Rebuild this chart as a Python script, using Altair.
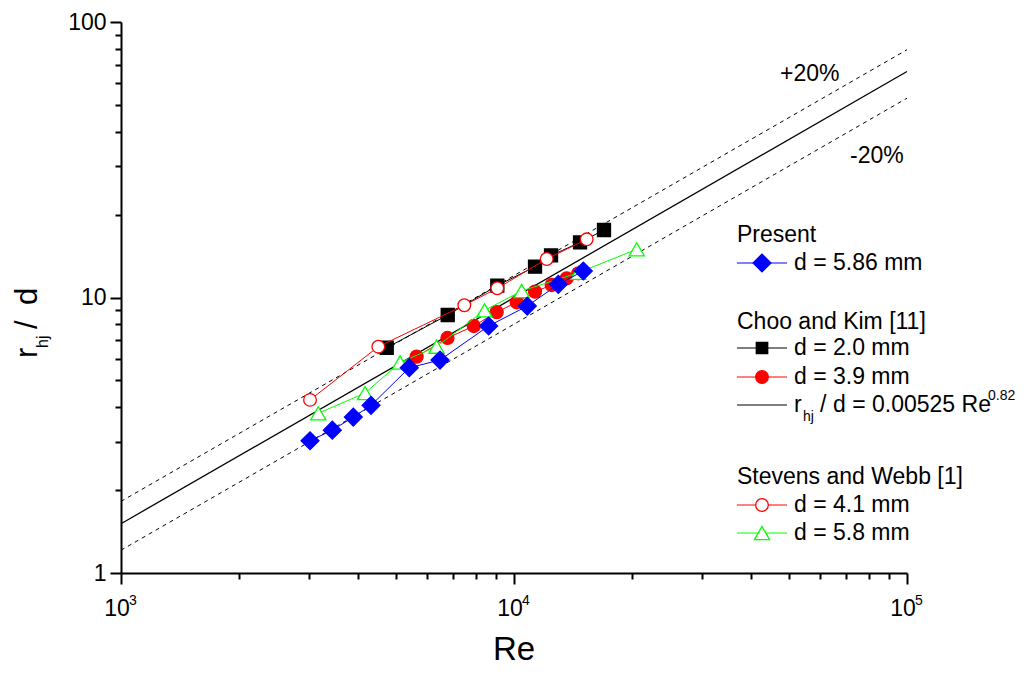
import altair as alt
import pandas as pd

FONT = "Liberation Sans"

# ---- data ----
present_re = [3027, 3449, 3900, 4327, 5415, 6482, 8620, 10810, 12964, 15010]
present_r = [3.02, 3.30, 3.68, 4.06, 5.56, 5.93, 7.88, 9.31, 11.16, 12.48]

ck20_re = [4744, 6782, 9069, 11310, 12423, 14724, 16943]
ck20_r = [6.57, 8.64, 11.05, 12.94, 14.21, 15.84, 17.58]

ck39_re = [5653, 6772, 7903, 9036, 10160, 11310, 12470, 13620, 14580]
ck39_r = [6.10, 7.13, 7.88, 8.85, 9.61, 10.50, 11.10, 11.74, 12.24]

sw41_re = [3027, 4516, 7474, 9069, 12114, 15310]
sw41_r = [4.25, 6.63, 9.37, 10.80, 13.80, 16.26]

sw58_re = [3177, 4178, 5129, 6352, 8414, 10461, 14580, 20520]
sw58_r = [3.80, 4.50, 5.81, 6.63, 8.98, 10.56, 12.30, 14.96]

fit_re = [1000, 100000]
fit_r = [1.51, 66.1]
fit_hi = [1.82, 79.3]
fit_lo = [1.21, 52.9]

x_ticks = [1000, 2000, 3000, 4000, 5000, 6000, 7000, 8000, 9000,
           10000, 20000, 30000, 40000, 50000, 60000, 70000, 80000, 90000, 100000]
y_ticks = [1, 2, 3, 4, 5, 6, 7, 8, 9, 10, 20, 30, 40, 50, 60, 70, 80, 90, 100]
x_decades = [1000, 10000, 100000]
x_decade_base = ["10", "10", "10"]
x_decade_exp = ["3", "4", "5"]

# ---- scales / axes ----
x_scale = alt.Scale(type="log", domain=[1000, 100000], nice=False)
y_scale = alt.Scale(type="log", domain=[1, 100], nice=False)

x_axis = alt.Axis(
    values=x_ticks, labels=False,
    tickSize={"condition": {"test": "datum.value == 1000 || datum.value == 10000 || datum.value == 100000", "value": 11}, "value": 6},
    tickWidth=2, tickColor="black", domainColor="black", domainWidth=2,
    grid=False, title=None,
)
y_axis = alt.Axis(
    values=y_ticks,
    labelExpr="datum.value == 1 ? '1' : datum.value == 10 ? '10' : datum.value == 100 ? '100' : ''",
    tickSize={"condition": {"test": "datum.value == 1 || datum.value == 10 || datum.value == 100", "value": 11}, "value": 6},
    tickWidth=2, tickColor="black", domainColor="black", domainWidth=2,
    labelFont=FONT, labelFontSize=23, labelColor="black", labelPadding=4,
    labelFlush=False, labelOverlap=False, grid=False, title=None,
)


def enc(ch):
    return ch.encode(
        x=alt.X("Re:Q", scale=x_scale, axis=x_axis),
        y=alt.Y("r:Q", scale=y_scale, axis=y_axis),
        order=alt.Order("Re:Q"),
    )


def df(re, r):
    return pd.DataFrame({"Re": re, "r": r})


layers = []

# correlation and +-20% lines
layers.append(enc(alt.Chart(df(fit_re, fit_hi)).mark_line(color="black", strokeWidth=1, strokeDash=[4, 4])))
layers.append(enc(alt.Chart(df(fit_re, fit_lo)).mark_line(color="black", strokeWidth=1, strokeDash=[4, 4])))
layers.append(enc(alt.Chart(df(fit_re, fit_r)).mark_line(color="black", strokeWidth=1.3)))


def series(re, r, color, shape, size, fill):
    d = alt.Chart(df(re, r))
    line = enc(d.mark_line(color=color, strokeWidth=1))
    pts = enc(d.mark_point(shape=shape, size=size, filled=True, fill=fill,
                           stroke=color, strokeWidth=1.3, opacity=1))
    return [line, pts]


layers += series(ck20_re, ck20_r, "black", "square", 169, "black")
layers += series(ck39_re, ck39_r, "#FF0000", "circle", 169, "#FF0000")
layers += series(sw58_re, sw58_r, "#00FF00", "triangle-up", 230, "white")
layers += series(sw41_re, sw41_r, "#FF0000", "circle", 160, "white")
layers += series(present_re, present_r, "#0000FF", "diamond", 320, "#0000FF")

# x tick labels 10^n drawn at the decade positions of the x scale
dec = pd.DataFrame({"Re": x_decades, "base": x_decade_base, "exp": x_decade_exp})
layers.append(alt.Chart(dec).mark_text(font=FONT, fontSize=23, color="black", align="center",
                                       baseline="middle", dx=-4).encode(
    x=alt.X("Re:Q", scale=x_scale, axis=x_axis), y=alt.value(587), text="base:N"))
layers.append(alt.Chart(dec).mark_text(font=FONT, fontSize=14, color="black", align="left",
                                       baseline="middle", dx=8).encode(
    x=alt.X("Re:Q", scale=x_scale, axis=x_axis), y=alt.value(579), text="exp:N"))


# annotations
def text_layer(label, x, y, size=23, align="left", baseline="middle", angle=0):
    kw = dict(align=align, baseline=baseline, font=FONT, fontSize=size, color="black")
    if angle:
        kw["angle"] = angle
    return alt.Chart(pd.DataFrame({"label": [label]})).mark_text(**kw).encode(
        x=alt.value(x), y=alt.value(y), text="label:N")

layers.append(text_layer("+20%", 659, 52))
layers.append(text_layer("-20%", 729, 134))
layers.append(text_layer("Re", 393, 638, size=33, align="center", baseline="alphabetic"))

# legend
LX0, LX1, LXS, LXT = 616, 666, 641, 673


def legend_row(y, label, color, shape=None, size=0, fill=None):
    base = alt.Chart(pd.DataFrame({"label": [label]}))
    out = [base.mark_rule(color=color, strokeWidth=1).encode(
        x=alt.value(LX0), x2=alt.value(LX1), y=alt.value(y))]
    if shape:
        out.append(base.mark_point(shape=shape, size=size, filled=True, fill=fill,
                                   stroke=color, strokeWidth=1.3, opacity=1).encode(
            x=alt.value(LXS), y=alt.value(y)))
    out.append(text_layer(label, LXT, y))
    return out

layers.append(text_layer("Present", LX0, 213))
layers += legend_row(241, "d = 5.86 mm", "#0000FF", "diamond", 320, "#0000FF")
layers.append(text_layer("Choo and Kim [11]", LX0, 300))
layers += legend_row(326, "d = 2.0 mm", "black", "square", 130, "black")
layers += legend_row(355, "d = 3.9 mm", "#FF0000", "circle", 160, "#FF0000")
# formula row
layers.append(alt.Chart(pd.DataFrame({"label": ["fit"]})).mark_rule(color="black", strokeWidth=1).encode(
    x=alt.value(LX0), x2=alt.value(LX1), y=alt.value(383)))
layers.append(text_layer("r", LXT, 383))
layers.append(text_layer("hj", LXT + 9, 395, size=14))
layers.append(text_layer("/", LXT + 26, 383))
layers.append(text_layer("d = 0.00525 Re", LXT + 39, 383))
layers.append(text_layer("0.82", LXT + 194, 374, size=14))
layers.append(text_layer("Stevens and Webb [1]", LX0, 455))
layers += legend_row(483, "d = 4.1 mm", "#FF0000", "circle", 160, "white")
layers += legend_row(511, "d = 5.8 mm", "#00FF00", "triangle-up", 230, "white")

# y axis title r_hj / d (rotated)
layers.append(text_layer("r", -84, 336, size=31, baseline="alphabetic", angle=270))
layers.append(text_layer("hj", -73, 326, size=16, baseline="alphabetic", angle=270))
layers.append(text_layer("/", -84, 307, size=31, baseline="alphabetic", angle=270))
layers.append(text_layer("d", -84, 283, size=31, baseline="alphabetic", angle=270))

chart = alt.layer(*layers).properties(
    width=786, height=551,
    autosize=alt.AutoSizeParams(type="none"),
    padding={"left": 113, "top": 14, "right": 109, "bottom": 94},
).configure_view(stroke=None)

chart.save("out.html", embed_options={"renderer": "svg", "actions": False})
